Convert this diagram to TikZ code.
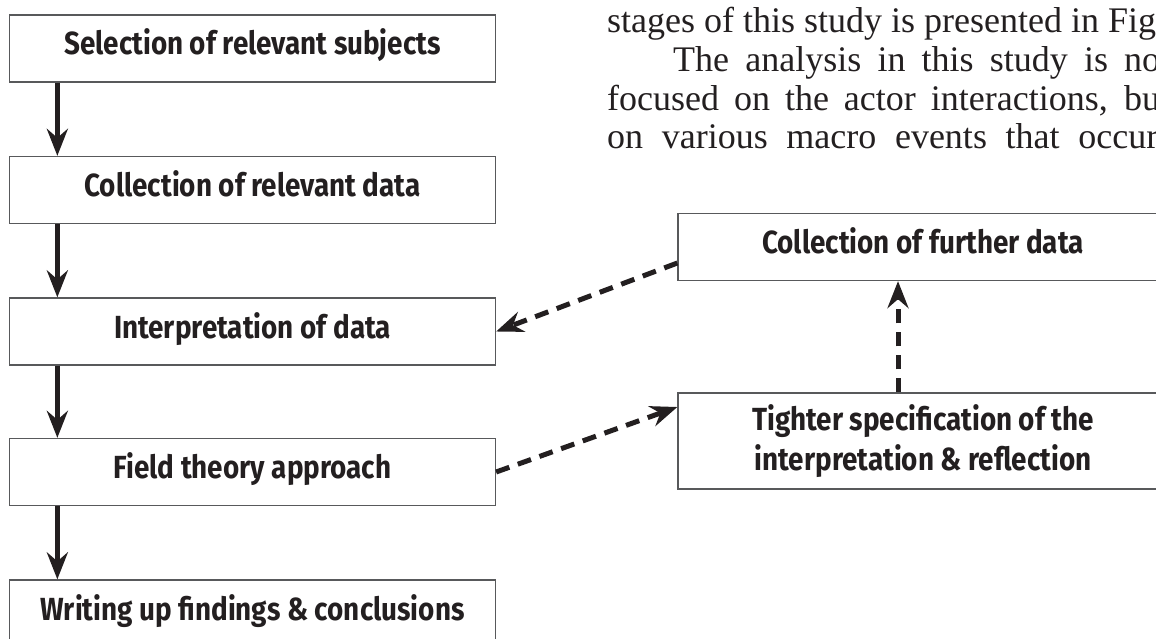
\documentclass[tikz,border=0pt]{standalone}
\usepackage{fontspec}
\newfontfamily\boxfont[FakeStretch=0.87]{Fira Sans}
\newfontfamily\prosefont{Liberation Serif}
\usetikzlibrary{arrows.meta}
\definecolor{ink}{HTML}{231F20}
\definecolor{frame}{HTML}{58595B}
\begin{document}
\begin{tikzpicture}[x=1pt,y=-1pt,
  stepbox/.style={draw=frame, line width=1.3pt, minimum width=486pt, minimum height=67pt,
    inner sep=0pt, text=ink, align=center,
    font=\boxfont\bfseries\fontsize{32}{40}\selectfont},
  oneline/.style={text height=22pt, text depth=9pt},
  flow/.style={draw=ink, line width=5pt, -{Stealth[length=27pt,width=21pt,inset=9pt]}},
  dflow/.style={flow, dash pattern=on 14pt off 9pt},
  prose/.style={anchor=base west, inner sep=0pt, text=ink, font=\prosefont\fontsize{36}{38}\selectfont}]
\useasboundingbox (0,0) rectangle (1156,639);
\clip (0,0) rectangle (1156,639);
% left column
\node[stepbox, oneline] (sel) at (252.5,48.5) {Selection of relevant subjects};
\node[stepbox, oneline] (col) at (252.5,190) {Collection of relevant data};
\node[stepbox, oneline] (int) at (252.5,331.5) {Interpretation of data};
\node[stepbox, oneline] (fld) at (252.5,472) {Field theory approach};
\node[stepbox, oneline] (wri) at (252.5,613.5) {Writing up findings \& conclusions};
% right column
\node[stepbox, oneline, minimum width=490pt] (fur) at (923,247) {Collection of further data};
\node[stepbox, minimum width=490pt, minimum height=96pt] (tig) at (923,441) {Tighter specification of the\\interpretation \& reflection};
% solid arrows
\draw[flow] ([xshift=48.5pt]sel.south west) -- ([xshift=48.5pt]col.north west);
\draw[flow] ([xshift=48.5pt]col.south west) -- ([xshift=48.5pt]int.north west);
\draw[flow] ([xshift=48.5pt]int.south west) -- ([xshift=48.5pt]fld.north west);
\draw[flow] ([xshift=48.5pt]fld.south west) -- ([xshift=48.5pt]wri.north west);
% dashed arrows
\draw[dflow] ([yshift=-16pt]fur.west) -- (int.east);
\draw[dflow] (fld.east) -- ([yshift=34pt]tig.west);
\draw[dflow] ([xshift=-25pt]tig.north) -- ([xshift=-25pt]fur.south);
% prose
\node[prose] (l1) at (607,33) {stages of this study is presented in Fig};
\node[prose] (l2) at (673,72) {\makebox[487pt][s]{The analysis in this study is no}};
\node[prose] (l3) at (607,110.5) {\makebox[553pt][s]{focused on the actor interactions, bu}};
\node[prose] (l4) at (607,149) {\makebox[551pt][s]{on various macro events that occur}};
\end{tikzpicture}
\end{document}
